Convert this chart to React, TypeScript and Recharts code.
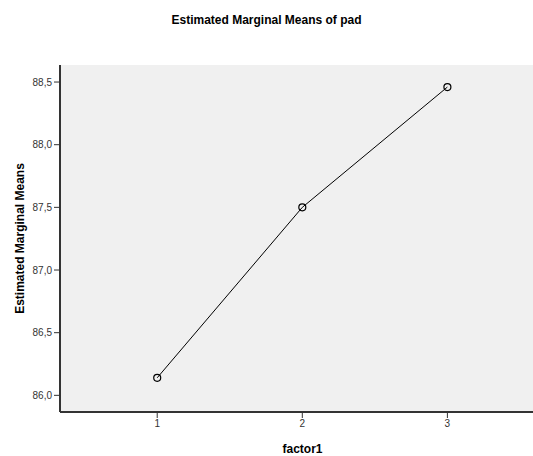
import React from 'react';
import { LineChart, Line, XAxis, YAxis, CartesianGrid, Label } from 'recharts';

const factorLevels = [1, 2, 3];
const meanValues = [86.14, 87.5, 88.46];
const yTicks = [86.0, 86.5, 87.0, 87.5, 88.0, 88.5];

const data = factorLevels.map((f, i) => ({ factor1: f, mean: meanValues[i] }));

const font = '"Liberation Sans", Arial, sans-serif';
const fmt = (v: number) => v.toFixed(1).replace('.', ',');

const App: React.FC = () => {
  return (
    <div style={{ position: 'absolute', left: 0, top: 0, width: 533, height: 456, background: '#fff', fontFamily: font }}>
      <div
        style={{
          position: 'absolute',
          left: 0,
          width: 533,
          top: 13,
          textAlign: 'center',
          fontWeight: 'bold',
          fontSize: 12,
          color: '#000',
        }}
      >
        Estimated Marginal Means of pad
      </div>
      <LineChart width={533} height={456} data={data} margin={{ top: 65, right: 0, bottom: 14, left: 0 }}>
        <CartesianGrid fill="#f0f0f0" horizontal={false} vertical={false} />
        <XAxis
          dataKey="factor1"
          type="number"
          domain={[0.33, 3.59]}
          ticks={factorLevels}
          allowDataOverflow
          height={30}
          axisLine={{ stroke: '#333', strokeWidth: 2 }}
          tickLine={{ stroke: '#333' }}
          tickSize={6}
          tick={{ fill: '#333', fontSize: 10, fontFamily: font }}
        >
          <Label value="factor1" position="insideBottom" offset={-11} dx={6} style={{ fontWeight: 'bold', fontSize: 12, fill: '#000', fontFamily: font }} />
        </XAxis>
        <XAxis
          xAxisId="top"
          orientation="top"
          dataKey="factor1"
          type="number"
          domain={[0.33, 3.59]}
          height={0}
          tick={false}
          tickLine={false}
          axisLine={{ stroke: '#777', strokeWidth: 2 }}
        />
        <YAxis
          type="number"
          domain={[85.867, 88.636]}
          ticks={yTicks}
          allowDataOverflow
          width={60}
          tickFormatter={fmt}
          axisLine={{ stroke: '#333', strokeWidth: 2 }}
          tickLine={{ stroke: '#333' }}
          tickSize={6}
          tick={{ fill: '#333', fontSize: 10, fontFamily: font }}
        >
          <Label value="Estimated Marginal Means" angle={-90} position="insideLeft" offset={20} style={{ textAnchor: 'middle', fontWeight: 'bold', fontSize: 12, fill: '#000', fontFamily: font }} />
        </YAxis>
        <Line
          type="linear"
          dataKey="mean"
          stroke="#000"
          strokeWidth={1}
          dot={{ r: 3.5, stroke: '#000', strokeWidth: 1.2, fill: 'none' }}
          isAnimationActive={false}
        />
      </LineChart>
    </div>
  );
};

export default App;
